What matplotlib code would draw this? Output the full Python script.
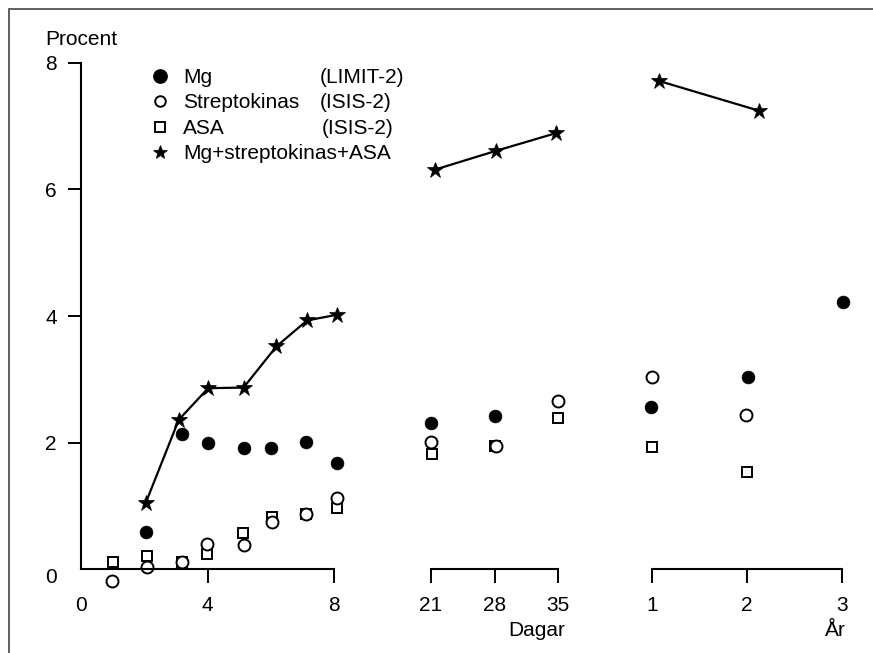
import matplotlib
matplotlib.use("Agg")
import matplotlib.pyplot as plt
from matplotlib.patches import Rectangle
from matplotlib.lines import Line2D
import matplotlib.transforms as mtransforms

plt.rcParams['font.family'] = ['Liberation Sans', 'DejaVu Sans']
FS = 15

# ---------------- data ----------------
# early phase (days 0-8)
early_days_mg = [2.05, 3.18, 4.02, 5.16, 6.02, 7.12, 8.08]
early_mg = [0.59, 2.13, 1.99, 1.91, 1.91, 2.01, 1.68]
early_days_sk = [0.98, 2.08, 3.18, 3.99, 5.14, 6.04, 7.10, 8.08]
early_sk = [-0.19, 0.04, 0.11, 0.40, 0.38, 0.74, 0.87, 1.13]
early_days_asa = [1.00, 2.08, 3.18, 3.98, 5.13, 6.05, 7.10, 8.08]
early_asa = [0.11, 0.21, 0.12, 0.24, 0.57, 0.83, 0.88, 0.97]
early_days_comb = [2.04, 3.09, 4.02, 5.14, 6.18, 7.15, 8.10]
early_comb = [1.04, 2.36, 2.86, 2.87, 3.52, 3.93, 4.02]

# middle phase (days 21-35)
mid_days_mg = [21.0, 28.06]
mid_mg = [2.31, 2.42]
mid_days_sk = [21.0, 28.1, 35.0]
mid_sk = [2.01, 1.94, 2.65]
mid_days_asa = [21.1, 28.0, 35.0]
mid_asa = [1.82, 1.94, 2.39]
mid_days_comb = [21.4, 28.2, 34.8]
mid_comb = [6.31, 6.61, 6.89]

# late phase (years 1-3)
late_years_mg = [0.99, 2.01, 3.01]
late_mg = [2.56, 3.03, 4.22]
late_years_sk = [1.00, 1.99]
late_sk = [3.03, 2.43]
late_years_asa = [1.00, 2.00]
late_asa = [1.93, 1.53]
late_years_comb = [1.08, 2.13]
late_comb = [7.71, 7.24]

yticks = [0, 2, 4, 6, 8]
early_ticks = [0, 4, 8]
mid_ticks = [21, 28, 35]
late_ticks = [1, 2, 3]

legend_names = ["Mg", "Streptokinas", "ASA", "Mg+streptokinas+ASA"]
legend_studies = ["(LIMIT-2)", "(ISIS-2)", "(ISIS-2)", ""]

# ---------------- layout ----------------
W, H = 873, 653
fig = plt.figure(figsize=(W / 100, H / 100), dpi=100)

y0_px, y8_px = 569.3, 62.7
ys = (y0_px - y8_px) / 8.0
ylo, yhi = -0.5, 8.5
bot_px = y0_px - (ylo * ys)
top_px = y0_px - (yhi * ys)
ax_bottom = 1 - bot_px / H
ax_height = (bot_px - top_px) / H


def make_ax(xa, pa, xb, pb, lo, hi):
    s = (pb - pa) / (xb - xa)
    left = pa + (lo - xa) * s
    w = (hi - lo) * s
    ax = fig.add_axes([left / W, ax_bottom, w / W, ax_height])
    ax.set_xlim(lo, hi)
    ax.set_ylim(ylo, yhi)
    ax.patch.set_visible(False)
    for sp in ['top', 'right', 'left']:
        ax.spines[sp].set_visible(False)
    ax.spines['bottom'].set_position(('data', 0))
    ax.spines['bottom'].set_linewidth(1.5)
    ax.tick_params(axis='x', direction='out', length=10, width=1.4,
                   pad=9, labelsize=FS)
    ax.set_yticks([])
    return ax


ax1 = make_ax(0, 81.0, 8, 334.0, -0.5, 8.6)
ax2 = make_ax(21, 431.0, 35, 558.3, 19.5, 36.5)
ax3 = make_ax(1, 651.7, 3, 842.3, 0.7, 3.3)

ax1.spines['bottom'].set_bounds(0, 8)
ax2.spines['bottom'].set_bounds(21, 35)
ax3.spines['bottom'].set_bounds(1, 3)

ax1.set_xticks(early_ticks)
ax2.set_xticks(mid_ticks)
ax3.set_xticks(late_ticks)
ax1.xaxis.get_major_ticks()[0].tick1line.set_visible(False)

# y axis on first panel
ax1.spines['left'].set_visible(True)
ax1.spines['left'].set_position(('data', 0))
ax1.spines['left'].set_bounds(0, 8)
ax1.spines['left'].set_linewidth(1.5)
ax1.set_yticks(yticks)
ax1.tick_params(axis='y', direction='out', length=9.5, width=1.4,
                pad=8, labelsize=FS)
ax1.yaxis.get_major_ticks()[0].tick1line.set_visible(False)
lab0 = ax1.yaxis.get_major_ticks()[0].label1
lab0.set_transform(lab0.get_transform() +
                   mtransforms.ScaledTranslation(0, -6 / 100, fig.dpi_scale_trans))

# ---------------- marks ----------------
sq = dict(marker='s', ms=7.6, mfc='white', mec='black', mew=1.4, ls='none', clip_on=False)
oc = dict(marker='o', ms=8.6, mfc='white', mec='black', mew=1.4, ls='none', clip_on=False)
fc = dict(marker='o', ms=9.2, mfc='black', mec='black', mew=0.5, ls='none', clip_on=False)
st = dict(marker='*', ms=12, mfc='black', mec='black', mew=0.5, color='black',
          lw=1.6, ls='-', clip_on=False)

for ax, (dx_asa, v_asa), (dx_sk, v_sk), (dx_mg, v_mg), (dx_c, v_c) in [
    (ax1, (early_days_asa, early_asa), (early_days_sk, early_sk),
     (early_days_mg, early_mg), (early_days_comb, early_comb)),
    (ax2, (mid_days_asa, mid_asa), (mid_days_sk, mid_sk),
     (mid_days_mg, mid_mg), (mid_days_comb, mid_comb)),
    (ax3, (late_years_asa, late_asa), (late_years_sk, late_sk),
     (late_years_mg, late_mg), (late_years_comb, late_comb)),
]:
    ax.plot(dx_asa, v_asa, **sq)
    ax.plot(dx_sk, v_sk, **oc)
    ax.plot(dx_mg, v_mg, **fc)
    ax.plot(dx_c, v_c, **st)

# ---------------- texts ----------------
def px(x, y):
    return x / W, 1 - y / H

fig.text(*px(45, 45), "Procent", fontsize=FS, ha='left', va='baseline')
fig.text(*px(565, 636), "Dagar", fontsize=FS, ha='right', va='baseline')
fig.text(*px(846, 636), "År", fontsize=FS, ha='right', va='baseline')

# legend (manual, to keep the two text columns aligned)
leg_styles = [
    dict(marker='o', ms=9.6, mfc='black', mec='black'),
    dict(marker='o', ms=7.6, mfc='white', mec='black', mew=1.4),
    dict(marker='s', ms=7.6, mfc='white', mec='black', mew=1.4),
    dict(marker='*', ms=10.5, mfc='black', mec='black', mew=0.5),
]
base0, step = 83.3, 25.1
for i, (name, study, sty) in enumerate(zip(legend_names, legend_studies, leg_styles)):
    yb = base0 + i * step
    fig.text(*px(183, yb), name, fontsize=FS, ha='left', va='baseline')
    if study:
        fig.text(*px(320 + (2 if i == 2 else 0), yb), study, fontsize=FS,
                 ha='left', va='baseline')
    mx, my = px(160, yb - 7)
    fig.add_artist(Line2D([mx], [my], transform=fig.transFigure, ls='none', **sty))

# outer frame (open at right and bottom)
fig.add_artist(Rectangle((8.5 / W, -0.2), 1.5, 1.2 - 9.0 / H,
                         transform=fig.transFigure, fill=False,
                         ec='#444444', lw=1.2))

fig.savefig("out.png", dpi=100)
